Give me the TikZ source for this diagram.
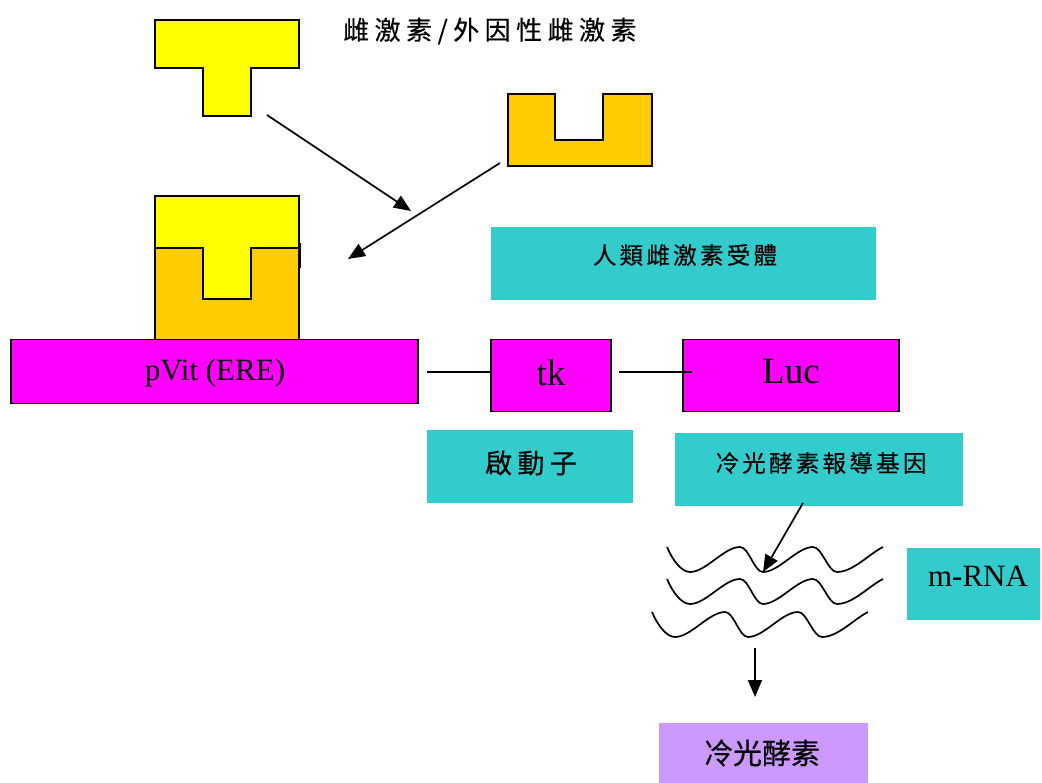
\documentclass[tikz,border=0pt]{standalone}
\usepackage{fontspec}
\setmainfont{Liberation Serif}
\newfontfamily\cjkT[LetterSpace=21,FakeBold=0.4]{Noto Sans CJK TC}
\newfontfamily\cjkA[LetterSpace=14,FakeBold=0.4]{Noto Sans CJK TC}
\newfontfamily\cjkB[LetterSpace=20,FakeBold=0.4]{Noto Sans CJK TC}
\newfontfamily\cjkC[FakeBold=0.4]{Noto Sans CJK TC}
\usetikzlibrary{arrows.meta}
\definecolor{yel}{HTML}{FFFF00}
\definecolor{org}{HTML}{FFCC00}
\definecolor{mag}{HTML}{FF00FF}
\definecolor{cyb}{HTML}{33CCCC}
\definecolor{pur}{HTML}{CC99FF}
\begin{document}
\begin{tikzpicture}[x=1pt,y=-1pt,
  shp/.style={draw=black, line width=1.8pt, line join=miter},
  mbox/.style={draw=black, line width=1.8pt, fill=mag, rectangle, inner sep=0pt},
  cbox/.style={fill=cyb, rectangle, inner sep=0pt},
  pbox/.style={fill=pur, rectangle, inner sep=0pt},
  arr/.style={line width=1.7pt, -{Triangle[length=17pt,width=14pt]}},
  lnk/.style={line width=1.7pt},
  wv/.style={line width=1.7pt},
  txt/.style={inner sep=0pt},
  mwave/.pic={
    \draw[wv] (0,0) .. controls +(5,12) and +(-9,0) .. ++(23,25)
      .. controls +(16,0) and +(-16,0) .. ++(50,-25)
      .. controls +(9,0) and +(-9,0) .. ++(23,25)
      .. controls +(16,0) and +(-16,0) .. ++(50,-25)
      .. controls +(9,0) and +(-9,0) .. ++(24,25)
      .. controls +(16,0) and +(-14,7) .. ++(46,-25);
  }
]
\useasboundingbox (0,0) rectangle (1042,783);

% title
\node[txt, anchor=west] (title) at (343,31) {\fontsize{26}{29}\selectfont\cjkT 雌激素/外因性雌激素};

% free hormone (T)
\draw[shp, fill=yel] (155,20) -- (299,20) -- (299,68) -- (251,68) -- (251,116) -- (203,116) -- (203,68) -- (155,68) -- cycle;
% free receptor (U)
\draw[shp, fill=org] (508,94) -- (555,94) -- (555,140) -- (603,140) -- (603,94) -- (652,94) -- (652,166) -- (508,166) -- cycle;

% bound complex
\draw[shp, fill=org] (155,248) -- (203,248) -- (203,299) -- (251,299) -- (251,248) -- (299,248) -- (299,340) -- (155,340) -- cycle;
\draw[shp, fill=yel] (155,196) -- (299,196) -- (299,248) -- (251,248) -- (251,299) -- (203,299) -- (203,248) -- (155,248) -- cycle;
\draw[line width=3pt] (299.5,243) -- (299.5,268);

% arrows to complex
\coordinate (a1s) at (267,115);
\coordinate (a1e) at (411,211);
\coordinate (a2s) at (500,163);
\coordinate (a2e) at (348,259);
\draw[arr] (a1s) -- (a1e);
\draw[arr] (a2s) -- (a2e);

% receptor label box
\node[cbox, minimum width=385pt, minimum height=73pt] (er) at (683.5,263.5) {};
\node[txt] (ert) at (685,255) {\fontsize{23.5}{26}\selectfont\cjkA 人類雌激素受體};

% gene construct
\node[mbox, minimum width=407pt, minimum height=64pt] (pvit) at (214.5,371.5) {};
\node[txt, anchor=base] (pvitt) at (215,381) {\fontsize{31}{34}\selectfont pVit (ERE)};
\node[mbox, minimum width=120pt, minimum height=72pt] (tk) at (551,375.5) {};
\node[txt, anchor=base] (tkt) at (551,386) {\fontsize{37}{40}\selectfont tk};
\node[mbox, minimum width=216pt, minimum height=72pt] (luc) at (791,375.5) {};
\node[txt, anchor=base] (luct) at (791,384) {\fontsize{37}{40}\selectfont Luc};

\coordinate (l1s) at (427,372);
\coordinate (l1e) at (491,372);
\coordinate (l2s) at (619,372);
\coordinate (l2e) at (692,372);
\draw[lnk] (l1s) -- (l1e);
\draw[lnk] (l2s) -- (l2e);

% labels under construct
\node[cbox, minimum width=206pt, minimum height=73pt] (prom) at (530,466.5) {};
\node[txt] (promt) at (531,463) {\fontsize{27}{30}\selectfont\cjkB 啟動子};
\node[cbox, minimum width=288pt, minimum height=73pt] (rep) at (819,469.5) {};
\node[txt] (rept) at (821,463) {\fontsize{23.5}{26}\selectfont\cjkA 冷光酵素報導基因};

% mRNA waves
\pic at (667,547) {mwave};
\pic at (667,579) {mwave};
\pic at (652,612) {mwave};
\coordinate (a3s) at (803,503);
\coordinate (trough) at (763,572);
\draw[arr] (a3s) -- (trough);

\node[cbox, minimum width=133pt, minimum height=72pt] (mrna) at (973.5,584) {};
\node[txt, anchor=base] (mrnat) at (978,586) {\fontsize{31}{34}\selectfont m-RNA};

% product
\coordinate (a4s) at (755,648);
\coordinate (a4e) at (755,697);
\draw[arr] (a4s) -- (a4e);
\node[pbox, minimum width=209pt, minimum height=62pt] (lucp) at (763.5,754) {};
\node[txt] (lucpt) at (762,753) {\fontsize{29}{32}\selectfont\cjkC 冷光酵素};
\end{tikzpicture}
\end{document}
